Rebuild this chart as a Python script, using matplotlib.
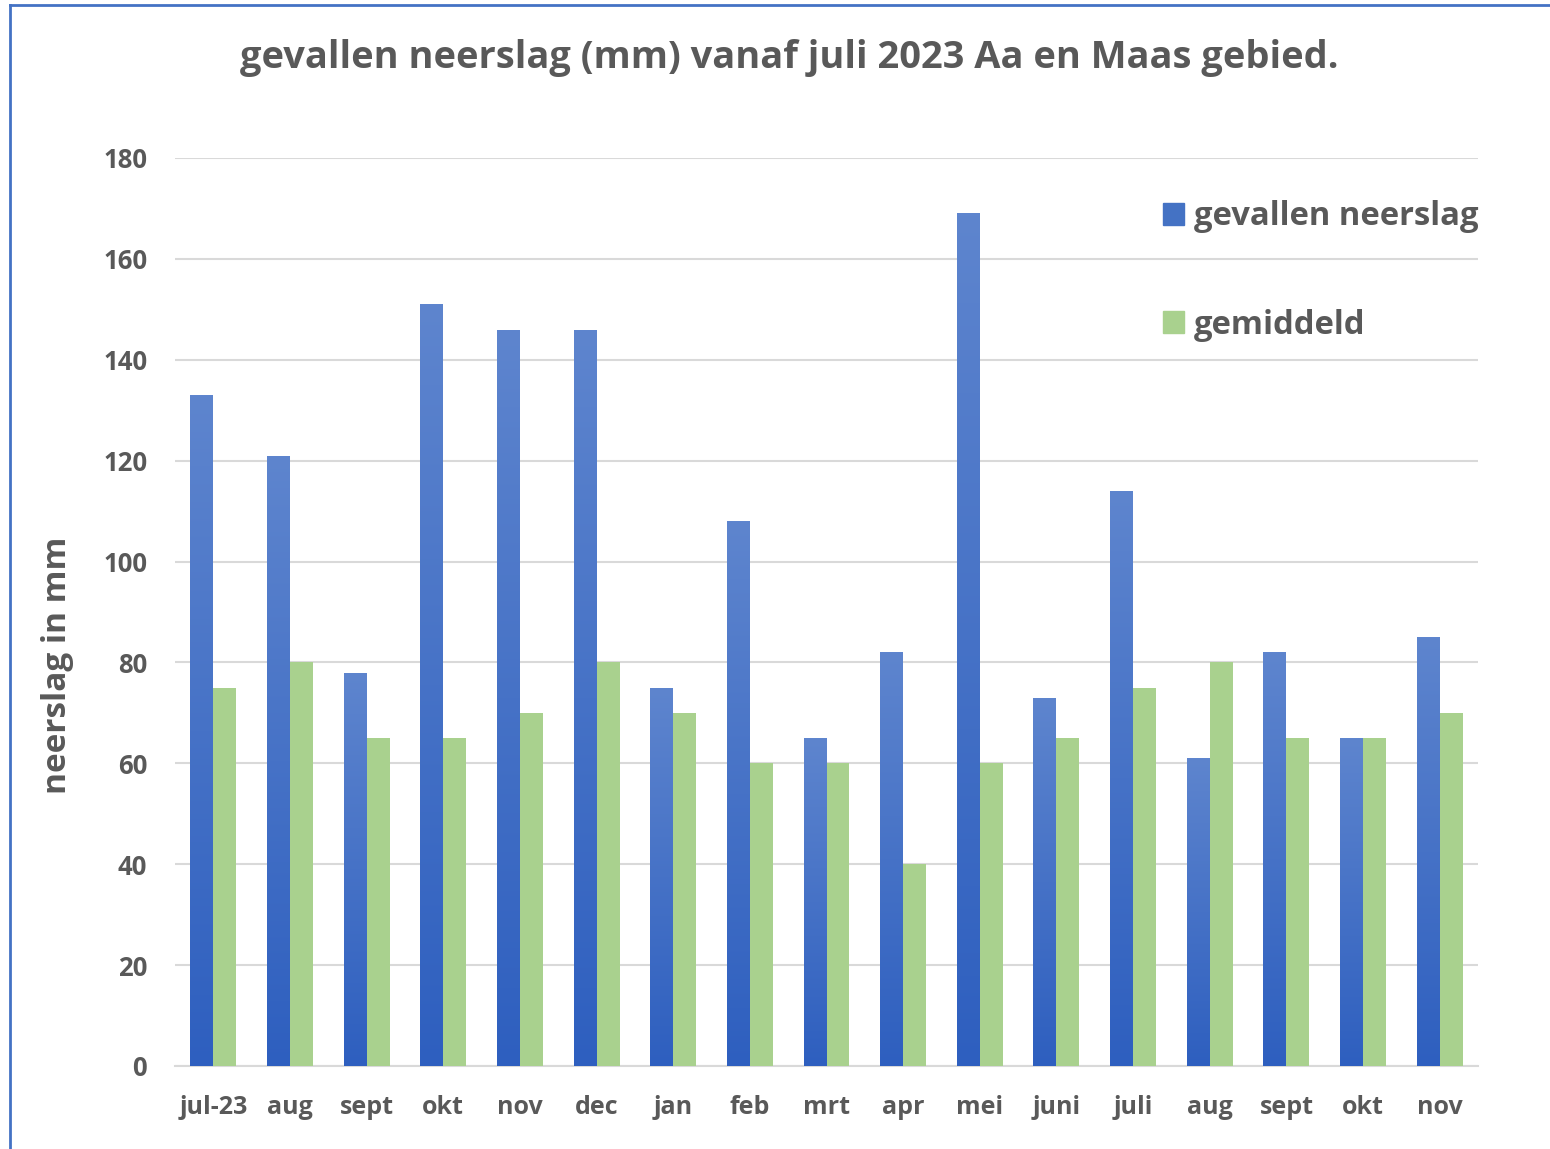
import matplotlib
matplotlib.use("Agg")
import matplotlib.pyplot as plt
import numpy as np
from matplotlib.colors import LinearSegmentedColormap
from matplotlib.lines import Line2D

months = ["jul-23", "aug", "sept", "okt", "nov", "dec", "jan", "feb", "mrt",
          "apr", "mei", "juni", "juli", "aug", "sept", "okt", "nov"]
gevallen = [133, 121, 78, 151, 146, 146, 75, 108, 65, 82, 169, 73, 114, 61, 82, 65, 85]
gemiddeld = [75, 80, 65, 65, 70, 80, 70, 60, 60, 40, 60, 65, 75, 80, 65, 65, 70]
yticks = [0, 20, 40, 60, 80, 100, 120, 140, 160, 180]

plt.rcParams['font.family'] = ['Open Sans', 'DejaVu Sans']
txt = '#595959'

fig = plt.figure(figsize=(15.5, 11.49), dpi=100)
ax = fig.add_axes([175/1550, 1 - 1066/1149, (1478 - 175)/1550, (1066 - 158)/1149])

x = np.arange(len(months))
w = 0.3
bb = ax.bar(x - w/2, gevallen, w, color='#4472c4', zorder=3, label='gevallen neerslag')
gb = ax.bar(x + w/2, gemiddeld, w, color='#a9d18e', zorder=3, label='gemiddeld')

# gradient fill on blue bars
cmap = LinearSegmentedColormap.from_list('g', ['#2e5fbf', '#5e85ce'])
grad = np.linspace(0, 1, 256).reshape(-1, 1)
for p in bb.patches:
    x0, y0 = p.get_x(), p.get_y()
    im = ax.imshow(grad, extent=(x0, x0 + p.get_width(), y0, y0 + p.get_height()),
                   origin='lower', cmap=cmap, aspect='auto', zorder=3.1)
    im.set_clip_path(p)
ax.set_xlim(-0.5, len(months) - 0.5)
ax.set_ylim(0, 180)
ax.set_yticks(yticks)
ax.set_xticks(x)
ax.set_xticklabels(months)
ax.grid(axis='y', color='#d9d9d9', linewidth=1.5, zorder=0)
for s in ['top', 'right', 'left']:
    ax.spines[s].set_visible(False)
ax.spines['bottom'].set_color('#d9d9d9')
ax.spines['bottom'].set_linewidth(1.5)
ax.tick_params(axis='y', length=0, labelsize=18.5, labelcolor=txt, pad=20)
ax.tick_params(axis='x', length=0, labelsize=18, labelcolor=txt, pad=21)
for lbl in ax.get_xticklabels() + ax.get_yticklabels():
    lbl.set_fontweight('bold')

fig.text(57/1550, 1 - 665/1149, 'neerslag in mm', rotation=90, ha='center', va='center',
         fontsize=24, fontweight='bold', color=txt)

fig.text(0.509, 1 - 58/1149, 'gevallen neerslag (mm) vanaf juli 2023 Aa en Maas gebied.',
         ha='center', va='center', fontsize=27.4, fontweight='bold', color=txt)

handles = [plt.Rectangle((0, 0), 1, 1, color='#4472c4'), plt.Rectangle((0, 0), 1, 1, color='#a9d18e')]
leg = ax.legend(handles, ['gevallen neerslag', 'gemiddeld'], loc='upper left',
                bbox_to_anchor=(1150/1550, 1 - 187/1149), bbox_transform=fig.transFigure,
                frameon=False, fontsize=23.6, labelspacing=2.3, handlelength=0.65,
                handleheight=0.65, handletextpad=0.3, borderaxespad=0)
for t in leg.get_texts():
    t.set_color(txt)
    t.set_fontweight('bold')

# outer border (top and left)
fig.add_artist(Line2D([10/1550, 10/1550], [0, 1 - 5/1149], transform=fig.transFigure,
                      color='#4472c4', linewidth=2))
fig.add_artist(Line2D([10/1550, 1], [1 - 5/1149, 1 - 5/1149], transform=fig.transFigure,
                      color='#4472c4', linewidth=2))

fig.savefig('out.png', dpi=100)
